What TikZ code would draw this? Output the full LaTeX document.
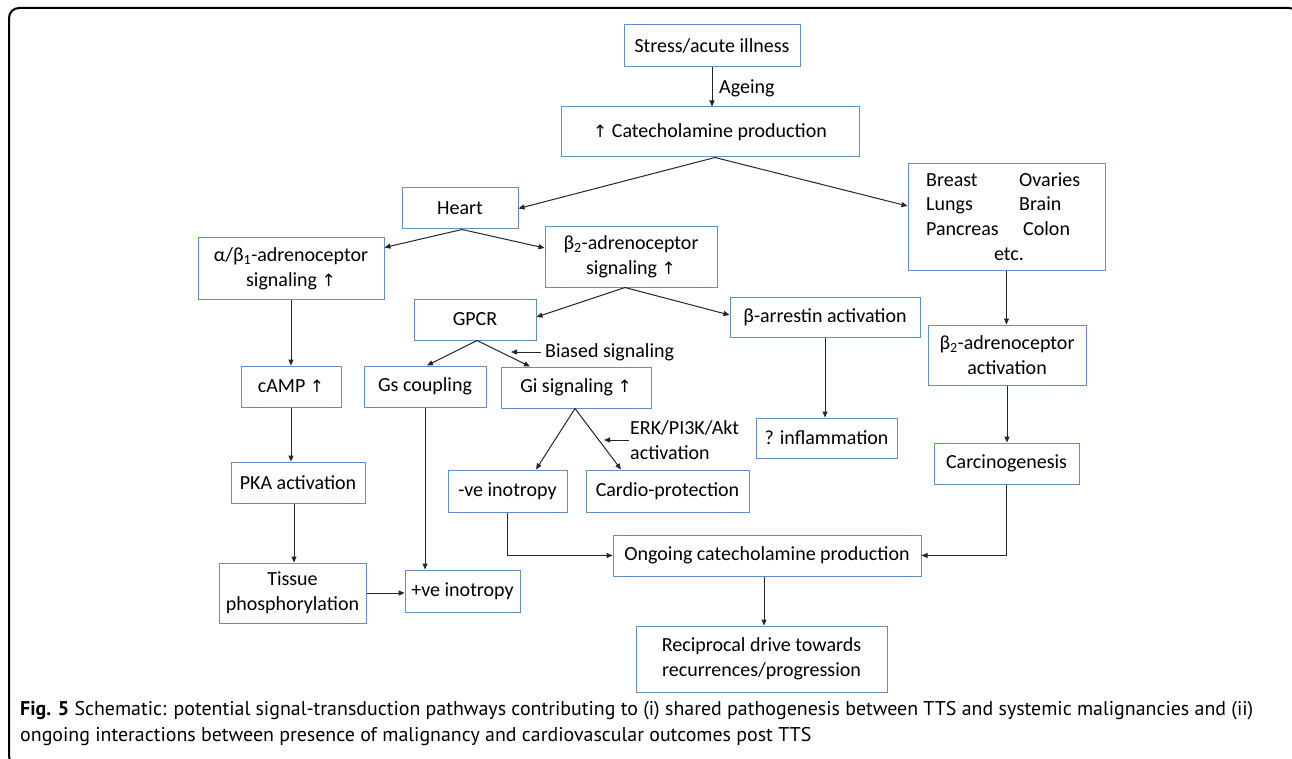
\documentclass[tikz,border=0pt]{standalone}
\usepackage{fontspec}
\setmainfont{Carlito}
\newfontfamily\capfont{PT Sans}
\newfontfamily\symfont{DejaVu Sans}
\usetikzlibrary{arrows.meta,calc}
\definecolor{boxblue}{RGB}{98,142,198}
\newcommand{\upar}{{\symfont\fontsize{17}{25}\selectfont\char"2191}}
\begin{document}
\begin{tikzpicture}[x=1pt,y=-1pt,
  box/.style={draw=boxblue,line width=1pt,inner sep=0pt,align=center,font=\fontsize{20}{25}\selectfont},
  txt/.style={inner sep=0pt,font=\fontsize{20}{25}\selectfont},
  conn/.style={draw=black!85,line width=1pt},
  arr/.style={conn,-{Triangle[length=6pt,width=5pt]}}]
\clip (0,0) rectangle (1292,759);
\fill[white] (0,0) rectangle (1292,759);
\draw[line width=2pt,rounded corners=10pt] (9,8) rectangle (1299,766);

% nodes
\node[box,minimum width=176pt,minimum height=42pt] (stress) at (712,46) {Stress/acute illness};
\node[box,minimum width=298pt,minimum height=50pt] (cat) at (710,132) {\upar\ Catecholamine production};
\node[box,minimum width=116pt,minimum height=41pt] (heart) at (460,208.5) {Heart};
\node[box,minimum width=197pt,minimum height=106pt] (breast) at (1006.5,217) {};
\node[txt,anchor=base west] (br1) at (926,187) {Breast};
\node[txt,anchor=base west] (br2) at (1019,187) {Ovaries};
\node[txt,anchor=base west] (br3) at (926,211) {Lungs};
\node[txt,anchor=base west] (br4) at (1019,211) {Brain};
\node[txt,anchor=base west] (br5) at (926,236) {Pancreas};
\node[txt,anchor=base west] (br6) at (1023,236) {Colon};
\node[txt,anchor=base] (br7) at (1009,261) {etc.};
\node[box,minimum width=186pt,minimum height=61pt] (alpha) at (291,268.5) {α/β\textsubscript{1}-adrenoceptor\\signaling \upar};
\node[box,minimum width=172pt,minimum height=60pt] (b2sig) at (631,257) {β\textsubscript{2}-adrenoceptor\\signaling \upar};
\node[box,minimum width=122pt,minimum height=41pt] (gpcr) at (475,319.5) {GPCR};
\node[box,minimum width=190pt,minimum height=40pt] (barr) at (825,317) {β-arrestin activation};
\node[box,minimum width=158pt,minimum height=60pt] (b2act) at (1007,355) {β\textsubscript{2}-adrenoceptor\\activation};
\node[box,minimum width=100pt,minimum height=41pt] (camp) at (291,386.5) {cAMP \upar};
\node[box,minimum width=122pt,minimum height=41pt] (gs) at (425,386.5) {Gs coupling};
\node[box,minimum width=150pt,minimum height=41pt] (gi) at (576,387.5) {Gi signaling \upar};
\node[box,minimum width=141pt,minimum height=40pt] (infl) at (826.5,438) {? inflammation};
\node[box,minimum width=134pt,minimum height=41pt] (pka) at (298,482.5) {PKA activation};
\node[box,minimum width=145pt,minimum height=41pt] (carc) at (1006.5,463.5) {Carcinogenesis};
\node[box,minimum width=119pt,minimum height=42pt] (neg) at (507.5,491) {-ve inotropy};
\node[box,minimum width=163pt,minimum height=42pt] (cardio) at (667.5,491) {Cardio-protection};
\node[box,minimum width=308pt,minimum height=41pt] (ongoing) at (767,555.5) {Ongoing catecholamine production};
\node[box,minimum width=147pt,minimum height=60pt] (tissue) at (292.5,593) {Tissue\\phosphorylation};
\node[box,minimum width=115pt,minimum height=42pt] (pos) at (462.5,591) {+ve inotropy};
\node[box,minimum width=251pt,minimum height=66pt] (recip) at (761.5,659) {Reciprocal drive towards\\recurrences/progression};

% labels
\node[txt,anchor=west] (ageing) at (719,88) {Ageing};
\node[txt,anchor=west] (biased) at (545,352) {Biased signaling};
\node[txt,anchor=west,align=left] (erk) at (630,440) {ERK/PI3K/Akt\\activation};

% coordinates
\path (cat.south) ++(5,0) coordinate (c1);
\path (breast.west) ++(0,-11) coordinate (bw);
\path (heart.south) ++(2,0) coordinate (h1);
\path (alpha.north east) ++(0,10) coordinate (aw);
\path (b2sig.west) ++(0,-9) coordinate (b2w);
\path (b2sig.south) ++(-6,0) coordinate (b1);
\path (gpcr.east) ++(0,-2.5) coordinate (ge);
\path (barr.west) ++(0,-2) coordinate (bwest);
\path (gpcr.south) ++(2,0) coordinate (g1);
\path (gs.north) ++(2,0) coordinate (gsn);
\path (gi.north) ++(-46,0) coordinate (gin);
\path (gi.south) ++(-1,0) coordinate (gi1);
\path (neg.north) ++(28.5,0) coordinate (negn);
\path (cardio.north) ++(-46.5,0) coordinate (cardn);
\coordinate (bz) at (511,351);
\coordinate (ez) at (604,440);
\path (pka.south) ++(-4,0) coordinate (pks);
\path (ongoing.south) ++(-3,0) coordinate (ons);

% connectors
\draw[arr] (stress.south) -- (stress.south |- cat.north);
\draw[arr] (c1) -- (heart.east);
\draw[arr] (c1) -- (bw);
\draw[arr] (h1) -- (aw);
\draw[arr] (h1) -- (b2w);
\draw[arr] (b1) -- (ge);
\draw[arr] (b1) -- (bwest);
\draw[arr] (g1) -- (gsn);
\draw[arr] (g1) -- (gin);
\draw[arr] ([xshift=-4pt]biased.west) -- (biased.west -| bz);
\draw[arr] (gi1) -- (negn);
\draw[arr] (gi1) -- (cardn);
\draw[arr] ([xshift=-1pt]erk.west) -- (erk.west -| ez);
\draw[arr] (alpha.south) -- (alpha.south |- camp.north);
\draw[arr] (camp.south) -- (camp.south |- pka.north);
\draw[arr] (pks) -- (pks |- tissue.north);
\draw[arr] (tissue.east) -- (tissue.east -| pos.west);
\draw[arr] (gs.south) -- (gs.south |- pos.north);
\draw[arr] (barr.south) -- (barr.south |- infl.north);
\draw[arr] (breast.south) -- (breast.south |- b2act.north);
\draw[arr] (b2act.south) -- (b2act.south |- carc.north);
\draw[arr] (carc.south) |- (ongoing.east);
\draw[arr] (neg.south) |- (ongoing.west);
\draw[arr] (ons) -- (ons |- recip.north);

% caption
\node[inner sep=0pt,anchor=base west,font=\capfont\fontsize{19.9}{26}\selectfont] (cap1) at (20,715) {\textbf{Fig. 5} Schematic: potential signal-transduction pathways contributing to (i) shared pathogenesis between TTS and systemic malignancies and (ii)};
\node[inner sep=0pt,anchor=base west,font=\capfont\fontsize{19.9}{26}\selectfont] (cap2) at (20,741) {ongoing interactions between presence of malignancy and cardiovascular outcomes post TTS};
\end{tikzpicture}
\end{document}
